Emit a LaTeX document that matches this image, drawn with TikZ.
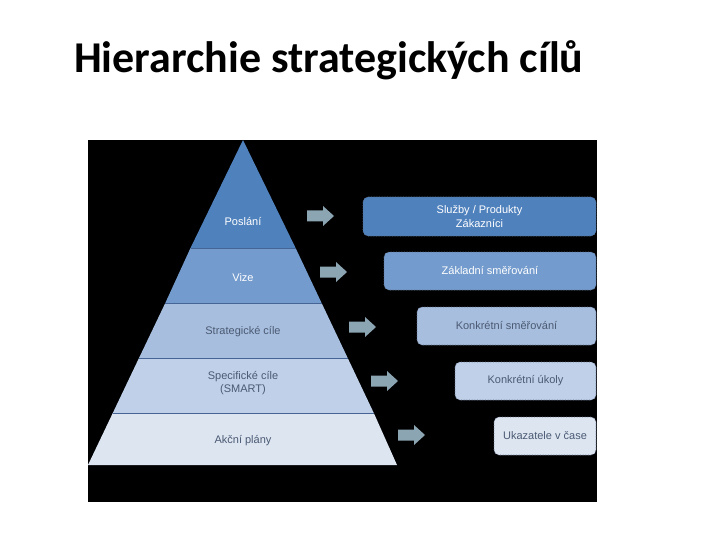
\documentclass[tikz,border=0pt]{standalone}
\usepackage{fontspec}
\setmainfont{Liberation Sans}
\newfontfamily\titlefont{Carlito}
\begin{document}
\begin{tikzpicture}[x=1pt,y=-1pt,
  lab/.style={font=\fontsize{11}{13.5}\selectfont, align=center, inner sep=0pt},
  wlab/.style={lab, text=white},
  glab/.style={lab, text=txtgray},
  box/.style={draw=boxline, line width=0.6pt, densely dotted, rounded corners=5pt},
  arr/.style={fill=arrgray, draw=none}]
\definecolor{c1}{RGB}{79,129,189}
\definecolor{c2}{RGB}{115,155,205}
\definecolor{c3}{RGB}{167,190,222}
\definecolor{c4}{RGB}{191,208,232}
\definecolor{c5}{RGB}{221,229,241}
\definecolor{boxline}{RGB}{95,110,135}
\definecolor{arrgray}{RGB}{140,165,178}
\definecolor{txtgray}{RGB}{75,90,115}
\definecolor{sepline}{RGB}{70,100,150}
\useasboundingbox (0,0) rectangle (720,540);
\fill[white] (0,0) rectangle (720,540);
% title
\node[anchor=base west, inner sep=0pt, font=\titlefont\bfseries\fontsize{44}{48}\selectfont] (title) at (74,73) {Hierarchie strategických cílů};
% black panel
\fill[black] (88,140) rectangle (597,502);
% pyramid bands: apex (243,140), base 88..397 at y=465
\coordinate (apex) at (243,140);
\fill[c1] (243,140) -- (295.6,248) -- (190.5,248) -- cycle;
\fill[c2] (190.5,248) -- (295.6,248) -- (321.6,303) -- (165.3,303) -- cycle;
\fill[c3] (165.3,303) -- (321.6,303) -- (347.7,358) -- (139.0,358) -- cycle;
\fill[c4] (139.0,358) -- (347.7,358) -- (373.8,413) -- (112.8,413) -- cycle;
\fill[c5] (112.8,413) -- (373.8,413) -- (397,465) -- (88,465) -- cycle;
\draw[sepline, line width=0.5pt] (190.5,248) -- (295.6,248)
  (165.3,303) -- (321.6,303) (139.0,358) -- (347.7,358) (112.8,413) -- (373.8,413);
\node[wlab] (p1) at (243,222) {Poslání};
\node[wlab] (p2) at (243,278) {Vize};
\node[glab] (p3) at (243,332) {Strategické cíle};
\node[glab] (p4) at (243,383) {Specifické cíle\\(SMART)};
\node[glab] (p5) at (243,441) {Akční plány};
% arrows
\foreach \n/\x/\y in {1/307/216, 2/320/272, 3/349/327, 4/371/381, 5/398/435} {
  \fill[arrgray] (\x,\y-5.5) -- (\x+16,\y-5.5) -- (\x+16,\y-10) -- (\x+27,\y) -- (\x+16,\y+10) -- (\x+16,\y+5.5) -- (\x,\y+5.5) -- cycle;
}
% boxes
\path[box, fill=c1] (363,197) rectangle (596,236);
\path[box, fill=c2] (384,252) rectangle (596,290);
\path[box, fill=c3] (417,307) rectangle (596,345);
\path[box, fill=c4] (455,362) rectangle (596,400);
\path[box, fill=c5] (494,417) rectangle (596,455);
\node[wlab] (b1) at (479.5,216.5) {Služby / Produkty\\Zákazníci};
\node[wlab] (b2) at (490,271) {Základní směřování};
\node[glab] (b3) at (506.5,326) {Konkrétní směřování};
\node[glab] (b4) at (525.5,381) {Konkrétní úkoly};
\node[glab] (b5) at (545,436) {Ukazatele v čase};
\end{tikzpicture}
\end{document}
